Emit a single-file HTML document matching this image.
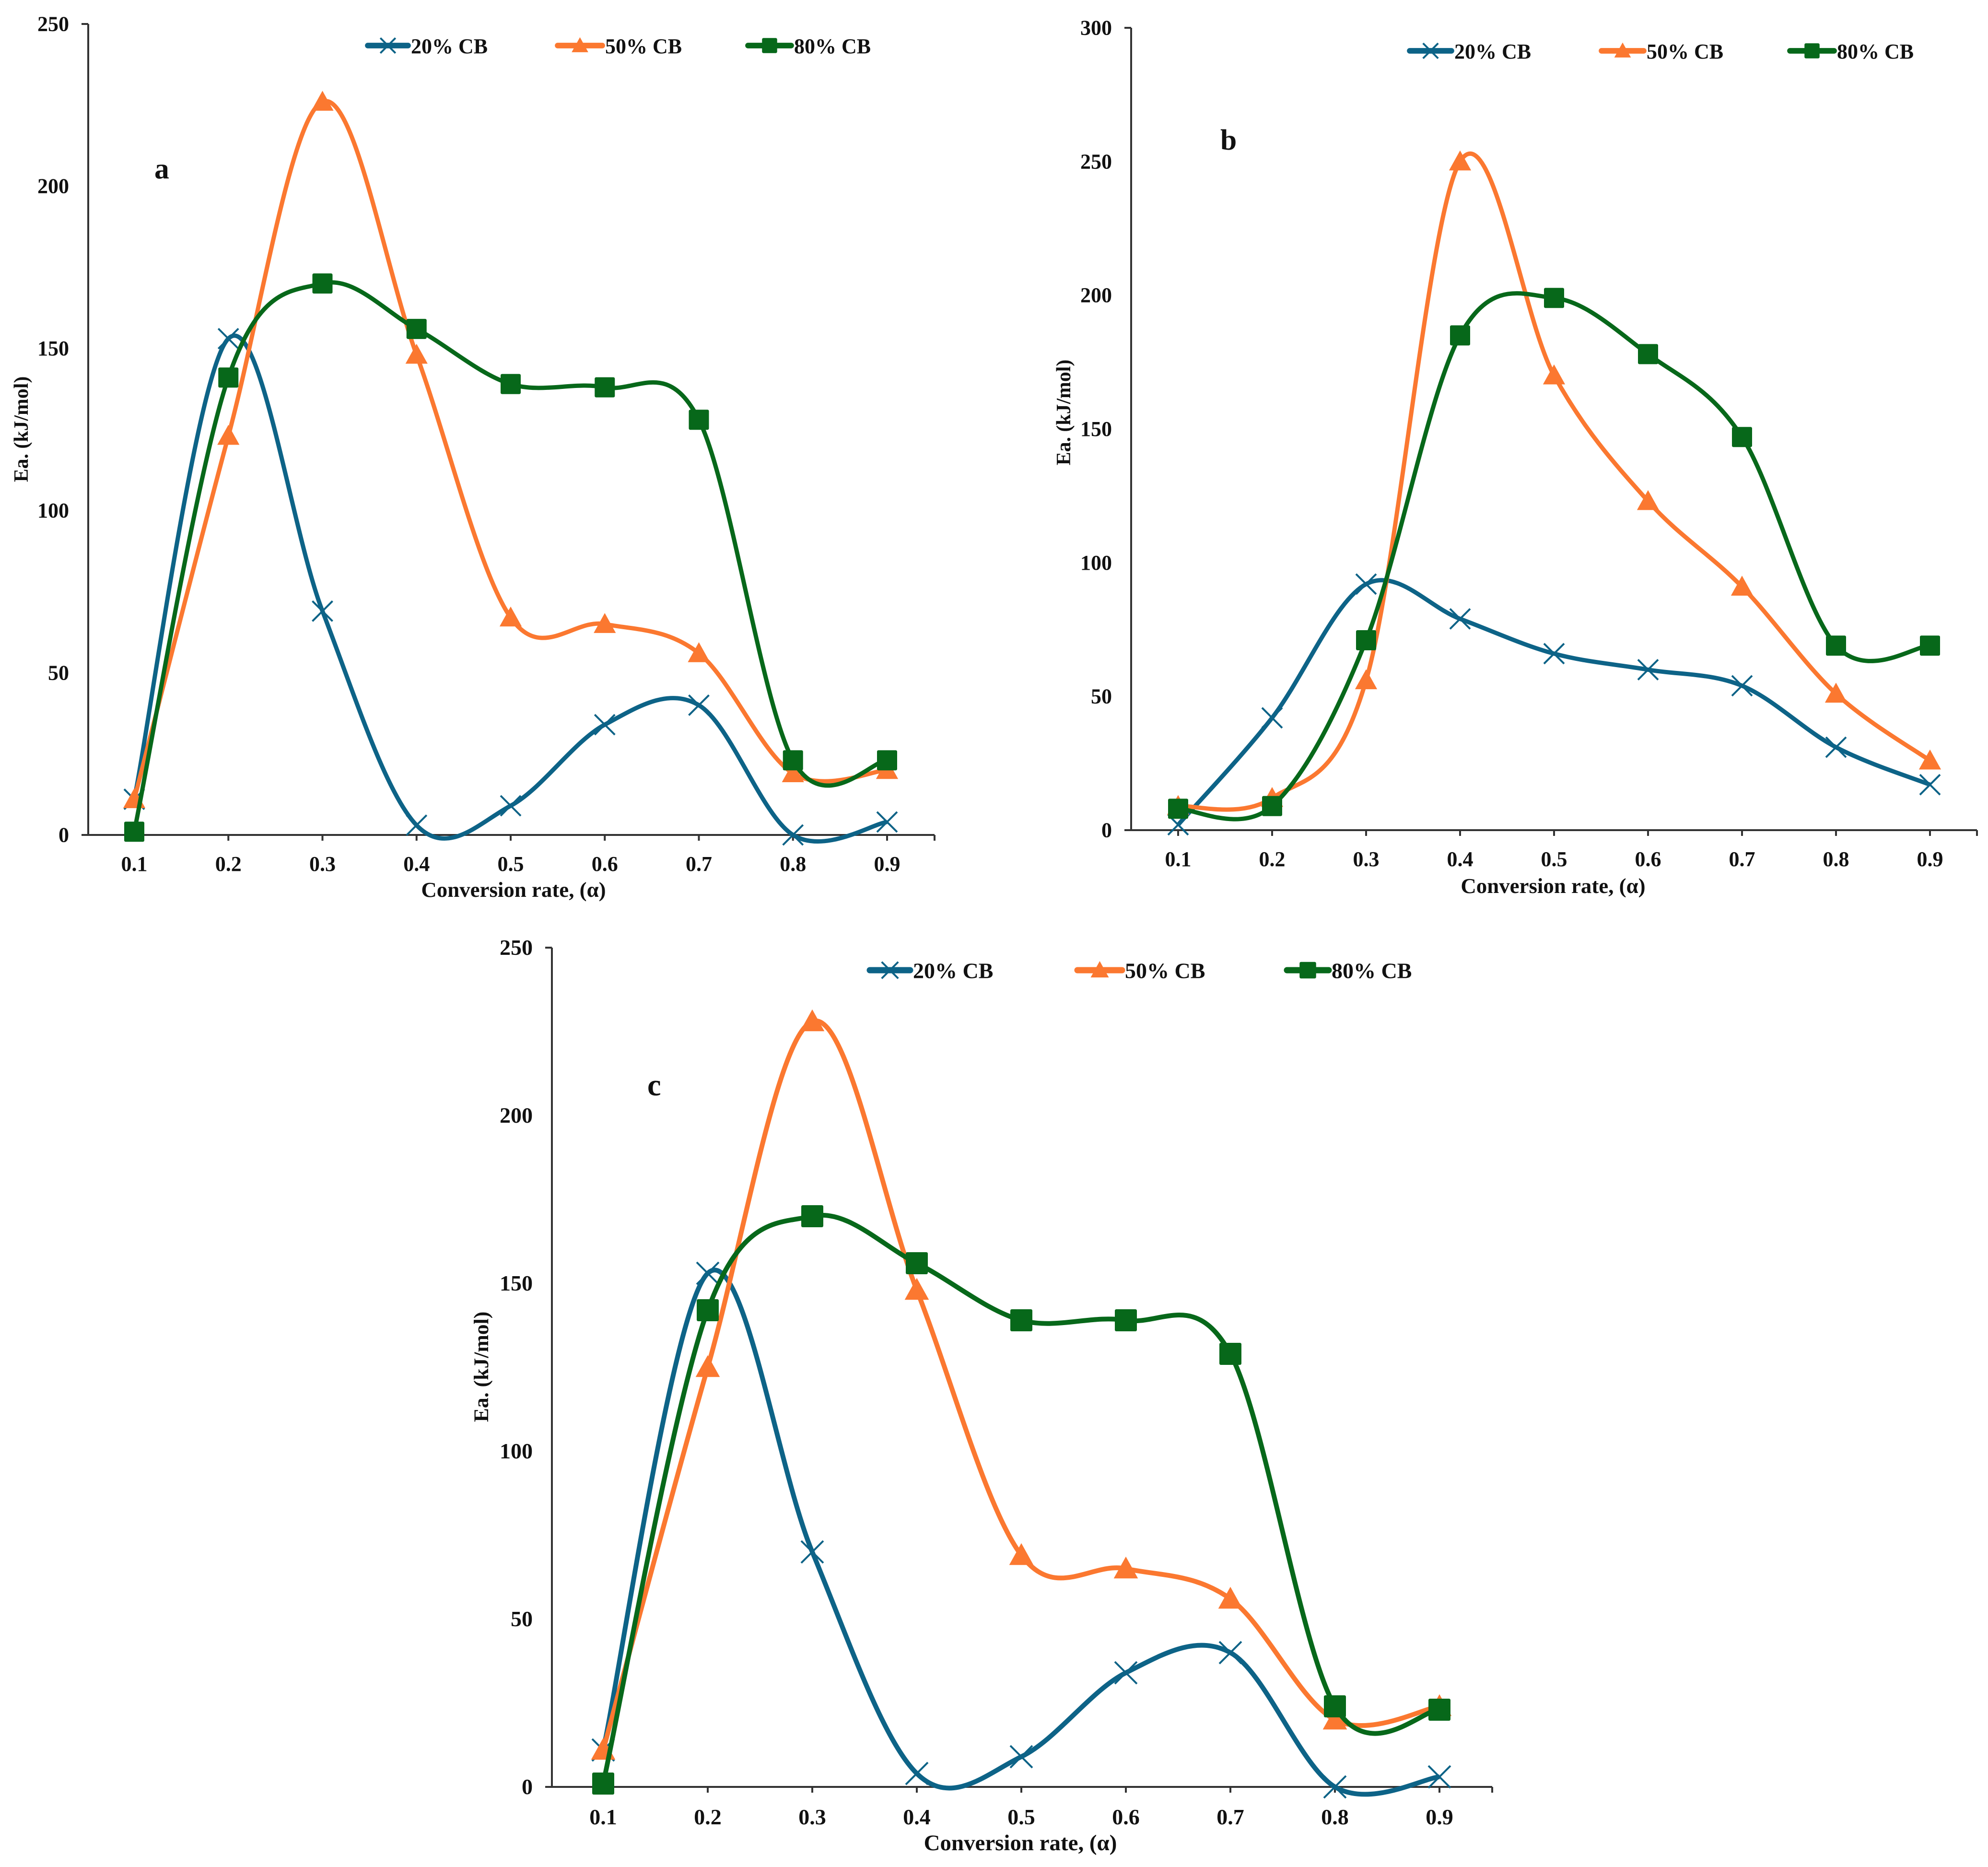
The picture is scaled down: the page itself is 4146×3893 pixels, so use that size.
<!DOCTYPE html>
<html><head><meta charset="utf-8"><style>
html,body{margin:0;padding:0;background:#fff;}
svg{display:block;}
text{font-family:"Liberation Serif",serif;font-weight:bold;fill:#111;}
</style></head>
<body>
<svg id="fig" width="4146" height="3893" viewBox="0 0 4146 3893" xmlns="http://www.w3.org/2000/svg"></svg>
<script>
const categories = [0.1,0.2,0.3,0.4,0.5,0.6,0.7,0.8,0.9];
const seriesNames = ["20% CB","50% CB","80% CB"];
const a20 = [11,153,69,3,9,34,40,0,4];
const a50 = [11,123,226,148,67,65,56,19,20];
const a80 = [1,141,170,156,139,138,128,23,23];
const b20 = [2,42,92,79,66,60,54,31,17];
const b50 = [9,12,56,250,170,123,91,51,26];
const b80 = [8,9,71,185,199,178,147,69,69];
const c20 = [11,153,70,4,9,34,40,0,3];
const c50 = [11,125,228,148,69,65,56,20,24];
const c80 = [1,142,170,156,139,139,129,24,23];
const ticksA = [0,50,100,150,200,250];
const ticksB = [0,50,100,150,200,250,300];
const ticksC = [0,50,100,150,200,250];

const NS="http://www.w3.org/2000/svg";
const svg=document.getElementById('fig');
const colors=["#0d6387","#fb7830","#07681a"];
function mk(tag,attrs,parent){const e=document.createElementNS(NS,tag);for(const k in attrs)e.setAttribute(k,attrs[k]);(parent||svg).appendChild(e);return e;}

function drawChart(p){
  const g=mk('g',{});
  
  
  const xs=v=>p.x0+(v-categories[0])/(categories[1]-categories[0])*p.step;
  const ys=v=>p.y0-(v/p.ymax)*(p.y0-p.ytop);
  // axes
  const ya=mk('line',{x1:p.ax,y1:p.ytop,x2:p.ax,y2:p.y0,stroke:'#333','stroke-width':4},g);
  
  
  const xa=mk('line',{x1:p.ax-14,y1:p.y0,x2:p.xend,y2:p.y0,stroke:'#333','stroke-width':4},g);
  
  
  mk('line',{x1:p.ax-14,y1:p.ytop,x2:p.ax,y2:p.ytop,stroke:'#333','stroke-width':4},g);
  mk('line',{x1:p.xend,y1:p.y0,x2:p.xend,y2:p.y0+12,stroke:'#333','stroke-width':4},g);
  p.ticks.forEach(t=>{
    const tl=mk('text',{x:p.ax-40,y:ys(t)+p.fs*0.33,'text-anchor':'end','font-size':p.fs},g);
    tl.textContent=t;
    
    
  });
  categories.forEach(c=>{
    mk('line',{x1:xs(c),y1:p.y0,x2:xs(c),y2:p.y0+12,stroke:'#333','stroke-width':4},g);
    const tl=mk('text',{x:xs(c),y:p.y0+p.fs*1.7,'text-anchor':'middle','font-size':p.fs},g);
    tl.textContent=c.toFixed(1);
    
    
  });
  const xt=mk('text',{x:p.xtx,y:p.xty,'text-anchor':'middle','font-size':p.fs*1.02},g);
  xt.textContent='Conversion rate, (α)';
  
  
  const yt=mk('text',{x:0,y:0,'text-anchor':'middle','font-size':p.fs*0.95,transform:`translate(${p.ytx},${p.yty}) rotate(-90)`},g);
  yt.textContent='Ea. (kJ/mol)';
  
  
  const pl=mk('text',{x:p.plx,y:p.ply,'font-size':p.fs*1.4},g);
  pl.textContent=p.id;
  
  
  // series
  p.series.forEach((vals,si)=>{
    const pts=vals.map((v,i)=>[xs(categories[i]),ys(v)]);
    let d=`M${pts[0][0]},${pts[0][1]}`;
    for(let i=0;i<pts.length-1;i++){
      const p0=pts[Math.max(0,i-1)],p1=pts[i],p2=pts[i+1],p3=pts[Math.min(pts.length-1,i+2)];
      const c1=[p1[0]+(p2[0]-p0[0])/6,p1[1]+(p2[1]-p0[1])/6];
      const c2=[p2[0]-(p3[0]-p1[0])/6,p2[1]-(p3[1]-p1[1])/6];
      d+=` C${c1[0]},${c1[1]} ${c2[0]},${c2[1]} ${p2[0]},${p2[1]}`;
    }
    const line=mk('path',{d:d,fill:'none',stroke:colors[si],'stroke-width':p.lw,'stroke-linejoin':'round'},g);
    
    
    pts.forEach(pt=>marker(g,si,pt[0],pt[1],p.ms));
  });
  // legend
  p.legend.forEach((L,si)=>{
    const lg=mk('g',{},g);
    
    
    mk('line',{x1:L[0],y1:p.ly,x2:L[1],y2:p.ly,stroke:colors[si],'stroke-width':p.lw*1.3,'stroke-linecap':'round'},lg);
    marker(lg,si,(L[0]+L[1])/2,p.ly,p.ms*0.75);
    const t=mk('text',{x:L[1]+6,y:p.ly+p.fs*0.36,'font-size':p.fs*1.0,'font-weight':'normal'},lg);
    t.textContent=seriesNames[si];
  });
}
function marker(g,si,x,y,s){
  let m;
  if(si===0){
    const h=s*0.5;
    m=mk('path',{d:`M${x-h},${y-h}L${x+h},${y+h}M${x-h},${y+h}L${x+h},${y-h}`,stroke:colors[0],'stroke-width':4,fill:'none'},g);
  }else if(si===1){
    const h=s*0.55;
    m=mk('polygon',{points:`${x},${y-h} ${x+h},${y+h*0.8} ${x-h},${y+h*0.8}`,fill:colors[1]},g);
  }else{
    const h=s*0.5;
    m=mk('rect',{x:x-h,y:y-h,width:2*h,height:2*h,rx:3,fill:colors[2]},g);
  }
  
  
}

drawChart({id:'a',ax:184,x0:280,step:196.25,xend:1949,y0:1741,ytop:50,ymax:250,ticks:ticksA,
  series:[a20,a50,a80],fs:44,lw:9,ms:42,ly:95,
  legend:[[767,851],[1163,1256],[1560,1650]],
  xtx:1071,xty:1870,ytx:58,yty:895,plx:322,ply:372});
drawChart({id:'b',ax:2359,x0:2457,step:196,xend:4123,y0:1731,ytop:58,ymax:300,ticks:ticksB,
  series:[b20,b50,b80],fs:44,lw:9,ms:42,ly:106,
  legend:[[2940,3027],[3340,3428],[3733,3825]],
  xtx:3239,xty:1862,ytx:2232,yty:860,plx:2545,ply:312});
drawChart({id:'c',ax:1151,x0:1258,step:218,xend:3112,y0:3726,ytop:1976,ymax:250,ticks:ticksC,
  series:[c20,c50,c80],fs:46,lw:10,ms:46,ly:2023,
  legend:[[1814,1898],[2247,2340],[2684,2771]],
  xtx:2128,xty:3858,ytx:1018,yty:2850,plx:1350,ply:2284});
</script>
</body></html>
